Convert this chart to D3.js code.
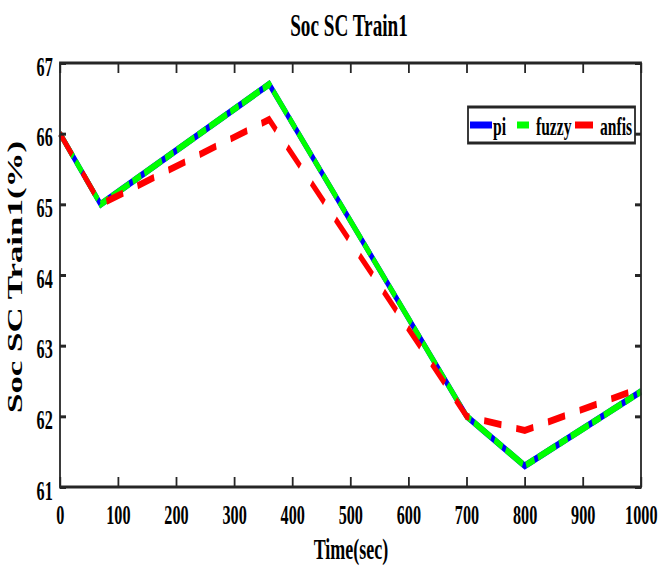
<!DOCTYPE html>
<html>
<head>
<meta charset="utf-8">
<script src="https://cdn.jsdelivr.net/npm/d3@7"></script>
<style>
  html, body { margin: 0; padding: 0; background: #fff; }
  svg { display: block; }
  text { font-family: "Liberation Serif", "Times New Roman", serif; font-weight: bold; fill: #000; }
</style>
</head>
<body>
<svg id="chart" width="658" height="567"></svg>
<script>
// Time axis (seconds)
const times = [0, 70, 360, 700, 800, 1000];
// State of charge of the supercapacitor (%), per controller
const piSoc    = [66, 65, 66.7, 62, 61.3, 62.35];
const fuzzySoc = [66, 65, 66.7, 62, 61.3, 62.35];
const anfisSoc = [66, 65, 66.2, 62, 61.8, 62.4];
// Ticks
const xTicks = [0, 100, 200, 300, 400, 500, 600, 700, 800, 900, 1000];
const yTicks = [61, 62, 63, 64, 65, 66, 67];
const seriesNames = ["pi", "fuzzy", "anfis"];

// The figure is drawn in a horizontally stretched frame and squeezed back
const SX = 0.6;
const svg = d3.select("#chart");
const root = svg.append("g").attr("transform", `scale(${SX},1)`);

const x = d3.scaleLinear().domain([0, 1000]).range([60 / SX, 641 / SX]);
const y = d3.scaleLinear().domain([61, 67]).range([487, 63]);
const axisColor = "#262626";

// Data lines
const line = d3.line().x(d => x(d.t)).y(d => y(d.v));
const mk = vals => times.map((t, i) => ({ t, v: vals[i] }));

const series = [
  { name: "pi",    data: mk(piSoc),    color: "#0000ff", dash: null },
  { name: "fuzzy", data: mk(fuzzySoc), color: "#00ff00", dash: "32,6,15,6" },
  { name: "anfis", data: mk(anfisSoc), color: "#ff0000", dash: "29,25" }
];

const plot = root.append("g");
series.forEach(s => {
  plot.append("path")
    .datum(s.data)
    .attr("d", line)
    .attr("fill", "none")
    .attr("stroke", s.color)
    .attr("stroke-width", 7)
    .attr("stroke-linejoin", "miter")
    .attr("stroke-dasharray", s.dash);
});

// Axes with inward ticks on all four sides
const tickLen = -10;
const gx = root.append("g").attr("transform", `translate(0,${y(61)})`)
  .call(d3.axisBottom(x).tickValues(xTicks).tickSize(tickLen).tickSizeOuter(0).tickFormat(d3.format("d")));
gx.selectAll("text").attr("dy", null).attr("y", 37).attr("font-size", 27);

const gxTop = root.append("g").attr("transform", `translate(0,${y(67)})`)
  .call(d3.axisTop(x).tickValues(xTicks).tickSize(tickLen).tickSizeOuter(0).tickFormat(""));

const gy = root.append("g").attr("transform", `translate(${x(0)},0)`)
  .call(d3.axisLeft(y).tickValues(yTicks).tickSize(tickLen).tickSizeOuter(0).tickFormat(d3.format("d")));
gy.selectAll("text").attr("dy", null).attr("x", -12).attr("y", 12).attr("font-size", 27);

const gyRight = root.append("g").attr("transform", `translate(${x(1000)},0)`)
  .call(d3.axisRight(y).tickValues(yTicks).tickSize(tickLen).tickSizeOuter(0).tickFormat(""));

[gx, gxTop, gy, gyRight].forEach(g => {
  g.select(".domain").remove();
  g.selectAll(".tick line").attr("stroke", axisColor).attr("stroke-width", 3);
  g.selectAll("text").attr("fill", "#000").attr("font-family", null);
});

root.append("rect")
  .attr("x", x(0)).attr("y", y(67))
  .attr("width", x(1000) - x(0)).attr("height", y(61) - y(67))
  .attr("fill", "none").attr("stroke", axisColor).attr("stroke-width", 3);

// Title and axis labels
root.append("text")
  .attr("x", 349 / SX).attr("y", 36)
  .attr("text-anchor", "middle").attr("font-size", 32)
  .text("Soc SC Train1");

root.append("text")
  .attr("x", 351 / SX).attr("y", 559)
  .attr("text-anchor", "middle").attr("font-size", 30)
  .text("Time(sec)");

root.append("text")
  .attr("transform", `translate(${22 / SX},277) rotate(-90)`)
  .attr("text-anchor", "middle").attr("font-size", 34)
  .attr("textLength", 272).attr("lengthAdjust", "spacingAndGlyphs")
  .text("Soc SC Train1(%)");

// Legend
const legend = root.append("g");
legend.append("rect")
  .attr("x", 468 / SX).attr("y", 107)
  .attr("width", (635 - 468) / SX).attr("height", 36)
  .attr("fill", "#fff").attr("stroke", axisColor).attr("stroke-width", 3);

const legendItems = [
  { x0: 470, x1: 492, tx: 493 },
  { x0: 517, x1: 529, tx: 536 },
  { x0: 575, x1: 593, tx: 600 }
];
series.forEach((s, i) => {
  const it = legendItems[i];
  legend.append("line")
    .attr("x1", it.x0 / SX).attr("x2", it.x1 / SX)
    .attr("y1", 125).attr("y2", 125)
    .attr("stroke", s.color).attr("stroke-width", 7);
  legend.append("text")
    .attr("x", it.tx / SX).attr("y", 135)
    .attr("font-size", 26)
    .text(seriesNames[i]);
});
</script>
</body>
</html>
